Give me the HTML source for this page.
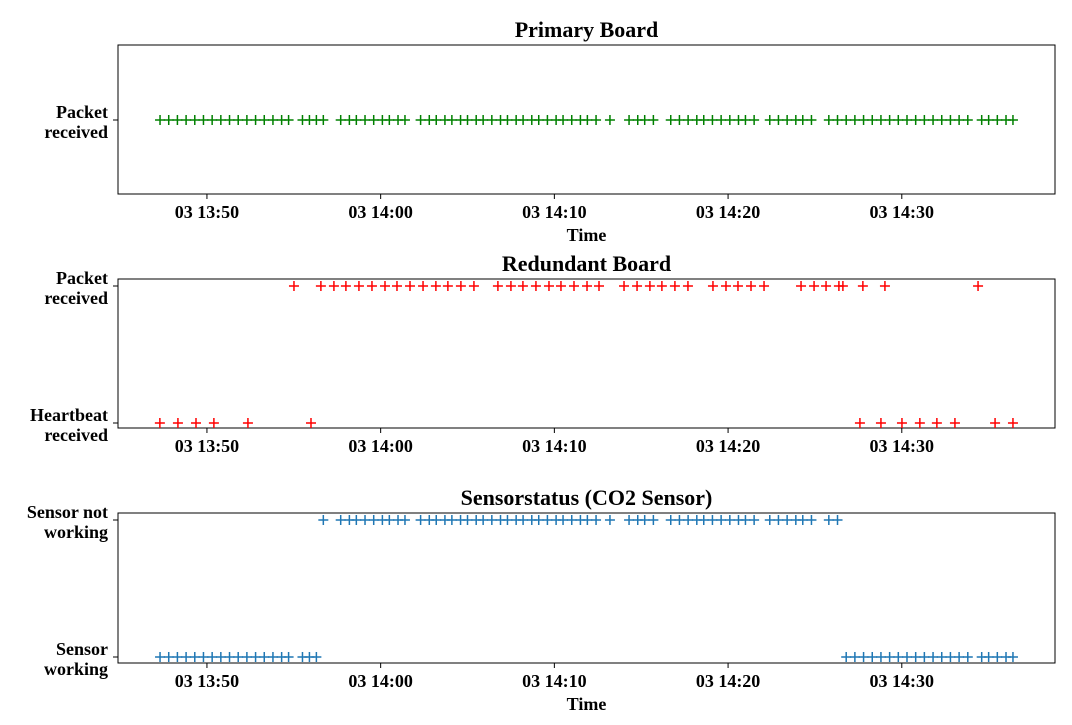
<!DOCTYPE html>
<html><head><meta charset="utf-8"><style>
body{margin:0;background:#fff}
svg text{font-family:"Liberation Serif",serif;font-weight:bold;fill:#000}
</style></head><body>
<svg id="c" width="1072" height="720" xmlns="http://www.w3.org/2000/svg"></svg>
<script>
const primaryTimes=[47.3,47.8,48.3,48.8,49.3,49.8,50.3,50.8,51.3,51.8,52.3,52.8,53.3,53.8,54.3,54.7,
55.5,55.9,56.3,56.7,
57.7,58.2,58.6,59.1,59.6,60.1,60.5,61.0,61.4,
62.3,62.8,63.2,63.7,64.1,64.6,65.0,65.5,65.9,66.4,66.9,67.3,67.8,68.2,68.7,69.1,69.6,70.1,70.5,71.0,71.5,71.9,72.4,
73.2,
74.3,74.8,75.2,75.7,
76.7,77.2,77.7,78.2,78.6,79.1,79.6,80.1,80.6,81.0,81.5,
82.4,82.9,83.4,83.9,84.3,84.8,
85.8,86.3,86.8,87.3,87.8,88.3,88.8,89.3,89.8,90.3,90.8,91.3,91.8,92.3,92.8,93.3,93.8,
94.6,95.0,95.5,96.0,96.4];
const primaryValues=[1,1,1,1,1,1,1,1,1,1,1,1,1,1,1,1, 1,1,1,1, 1,1,1,1,1,1,1,1,1,
1,1,1,1,1,1,1,1,1,1,1,1,1,1,1,1,1,1,1,1,1,1,1, 1, 1,1,1,1, 1,1,1,1,1,1,1,1,1,1,1, 1,1,1,1,1,1,
1,1,1,1,1,1,1,1,1,1,1,1,1,1,1,1,1, 1,1,1,1,1];
const sensorTimes=primaryTimes;
const sensorValues=[0,0,0,0,0,0,0,0,0,0,0,0,0,0,0,0, 0,0,0,1, 1,1,1,1,1,1,1,1,1,
1,1,1,1,1,1,1,1,1,1,1,1,1,1,1,1,1,1,1,1,1,1,1, 1, 1,1,1,1, 1,1,1,1,1,1,1,1,1,1,1, 1,1,1,1,1,1,
1,1,0,0,0,0,0,0,0,0,0,0,0,0,0,0,0, 0,0,0,0,0];
const redTimes=[47.29,48.33,49.37,50.40,52.36,55.01,55.99,56.56,57.31,58.00,58.75,59.50,60.25,60.94,61.69,62.44,63.18,63.87,64.62,65.37,66.75,67.50,68.19,68.94,69.69,70.38,71.13,71.88,72.57,74.01,74.76,75.50,76.19,76.94,77.69,79.13,79.88,80.57,81.32,82.07,84.20,84.95,85.64,86.38,86.61,87.59,87.76,88.80,89.03,90.01,91.04,92.02,93.06,94.39,95.37,96.40];
const redValues=[0,0,0,0,0,1,0,1,1,1,1,1,1,1,1,1,1,1,1,1,1,1,1,1,1,1,1,1,1,1,1,1,1,1,1,1,1,1,1,1,1,1,1,1,1,0,1,0,1,0,0,0,0,1,0,0];
const xTickMin=[50,60,70,80,90];
const xTickLabels=["03 13:50","03 14:00","03 14:10","03 14:20","03 14:30"];

const svg=document.getElementById('c');
const NS='http://www.w3.org/2000/svg';
function mk(tag,attrs,parent){const e=document.createElementNS(NS,tag);for(const k in attrs)e.setAttribute(k,attrs[k]);(parent||svg).appendChild(e);return e;}
const X0=118,X1=1055,M0=44.88,M1=98.82;
const xs=m=>X0+(m-M0)/(M1-M0)*(X1-X0);

const panels=[
 {name:'primary-board',title:'Primary Board',top:45,bot:194,times:primaryTimes,vals:primaryValues,color:'#008000',cats:{1:['Packet','received']},ymap:{1:120},xlabel:true},
 {name:'redundant-board',title:'Redundant Board',top:279,bot:428,times:redTimes,vals:redValues,color:'#ff0000',cats:{1:['Packet','received'],0:['Heartbeat','received']},ymap:{1:286,0:423},xlabel:false},
 {name:'sensor-status',title:'Sensorstatus (CO2 Sensor)',top:513,bot:663,times:sensorTimes,vals:sensorValues,color:'#1f77b4',cats:{1:['Sensor not','working'],0:['Sensor','working']},ymap:{1:520,0:657},xlabel:true}
];
panels.forEach(p=>{
 const g=mk('g',{});
 
 
 const t=mk('text',{x:(X0+X1)/2,y:p.top-8,'text-anchor':'middle','font-size':'22'},g);t.textContent=p.title;
 
 const r=mk('rect',{x:X0,y:p.top,width:X1-X0,height:p.bot-p.top,fill:'none',stroke:'#000','stroke-width':1},g);
 
 xTickMin.forEach((m,i)=>{
  const x=xs(m);
  mk('line',{x1:x,x2:x,y1:p.bot,y2:p.bot+5,stroke:'#000'},g);
  const tl=mk('text',{x:x,y:p.bot+24,'text-anchor':'middle','font-size':'18'},g);tl.textContent=xTickLabels[i];
  
 });
 for(const k in p.cats){
  const y=p.ymap[k];
  mk('line',{x1:X0-5,x2:X0,y1:y,y2:y,stroke:'#000'},g);
  const lt=mk('text',{x:X0-10,'text-anchor':'end','font-size':'18'},g);
  
  p.cats[k].forEach((s,j)=>{const ts=mk('tspan',{x:X0-10,y:y-2+j*20},lt);ts.textContent=s;});
 }
 if(p.xlabel){const xl=mk('text',{x:(X0+X1)/2,y:p.bot+47,'text-anchor':'middle','font-size':'18'},g);xl.textContent='Time';
  }
 p.times.forEach((m,i)=>{
  const x=xs(m),y=p.ymap[p.vals[i]];
  const pt=mk('path',{d:`M${x-5},${y}H${x+5}M${x},${y-5}V${y+5}`,stroke:p.color,'stroke-width':1.5,fill:'none'},g);
  
  
 });
});
</script>
</body></html>
